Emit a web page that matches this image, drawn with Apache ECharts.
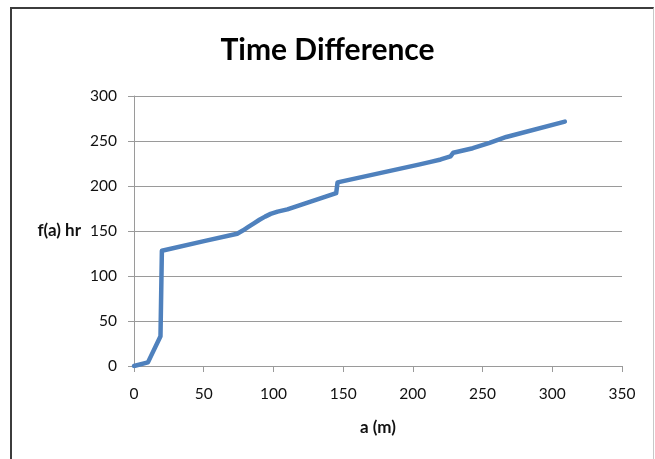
<!DOCTYPE html>
<html>
<head>
<meta charset="utf-8">
<script src="https://cdn.jsdelivr.net/npm/echarts@6/dist/echarts.min.js"></script>
<style>
html,body{margin:0;padding:0;background:#fff;}
#chart{position:absolute;left:0;top:0;width:655px;height:459px;}
#frame{position:absolute;left:10px;top:7px;width:641px;height:470px;border-left:2px solid #3c3c3c;border-top:2px solid #3c3c3c;border-right:1px solid #c8c8c8;pointer-events:none;}
</style>
</head>
<body>
<div id="chart"></div>
<div id="frame"></div>
<script>
// Data
const aValues = [0, 10, 19, 20, 51, 74, 78, 82, 86, 90, 94, 98, 103, 110, 145, 146, 205, 212, 220, 227, 229, 243, 255, 267, 309];
const fValues = [0, 4, 33, 128, 139, 147, 150.5, 154.5, 158.5, 162.5, 166, 169, 171.5, 174, 192, 204, 224, 226.5, 229.5, 233, 237, 242, 248, 254.5, 271.5];
const xTicks = [0, 50, 100, 150, 200, 250, 300, 350];
const yTicks = [0, 50, 100, 150, 200, 250, 300];
const titleText = 'Time Difference';
const xName = 'a (m)';
const yName = 'f(a) hr';

const points = aValues.map((a, i) => [a, fValues[i]]);
const FONT = 'Lato, "Open Sans", "Liberation Sans", sans-serif';

const chart = echarts.init(document.getElementById('chart'), null, {renderer: 'canvas'});
chart.setOption({
  animation: false,
  backgroundColor: '#ffffff',
  title: {
    text: titleText,
    left: 'center',
    top: 30,
    textStyle: {fontFamily: FONT, fontSize: 30, fontWeight: 'bold', color: '#000000'}
  },
  grid: {left: 134, right: 33, top: 96, bottom: 93, containLabel: false},
  xAxis: {
    type: 'value',
    min: xTicks[0], max: xTicks[xTicks.length - 1], interval: 50,
    name: xName, nameLocation: 'middle', nameGap: 53,
    nameTextStyle: {fontFamily: FONT, fontSize: 17, fontWeight: 'bold', color: '#111111'},
    axisLine: {show: true, lineStyle: {color: '#9a9a9a', width: 1}},
    axisTick: {show: true, length: 6, lineStyle: {color: '#9a9a9a'}},
    axisLabel: {margin: 20, fontFamily: FONT, fontSize: 15.5, color: '#111111'},
    splitLine: {show: false}
  },
  yAxis: {
    type: 'value',
    min: yTicks[0], max: yTicks[yTicks.length - 1], interval: 50,
    name: yName, nameLocation: 'middle', nameRotate: 0, nameGap: 53,
    nameTextStyle: {fontFamily: FONT, fontSize: 17, fontWeight: 'bold', color: '#111111'},
    axisLine: {show: true, lineStyle: {color: '#9a9a9a', width: 1}},
    axisTick: {show: true, length: 6, lineStyle: {color: '#9a9a9a'}},
    axisLabel: {margin: 17, fontFamily: FONT, fontSize: 15.5, color: '#111111'},
    splitLine: {show: true, lineStyle: {color: '#9a9a9a', width: 1}}
  },
  series: [{
    type: 'line',
    data: points,
    showSymbol: false,
    smooth: false,
    lineStyle: {color: '#4f81bd', width: 4.5, cap: 'round', join: 'round'},
    itemStyle: {color: '#4f81bd'}
  }]
});
</script>
</body>
</html>
